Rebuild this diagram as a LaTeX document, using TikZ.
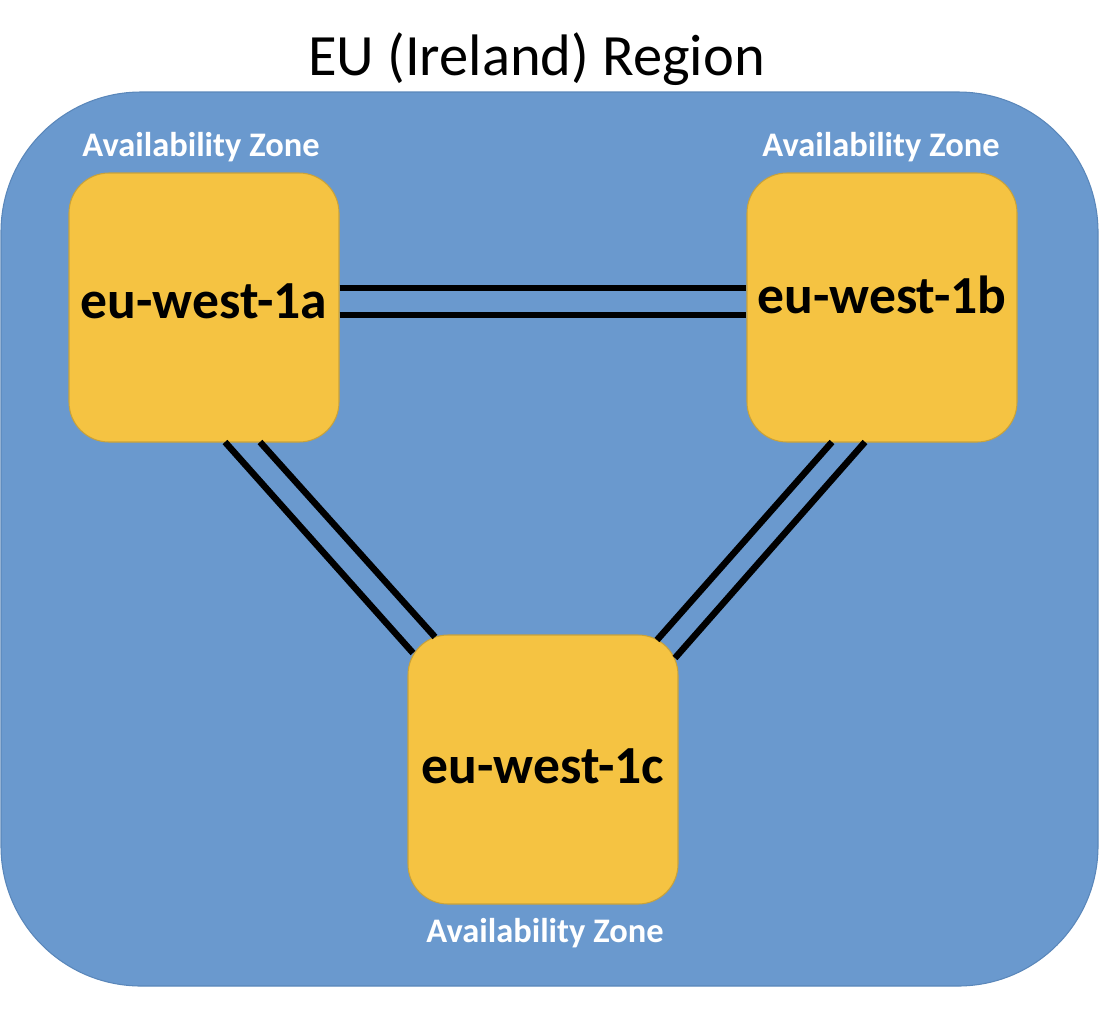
\documentclass[tikz,border=0pt]{standalone}
\usepackage{fontspec}
\setmainfont{Carlito}
\usetikzlibrary{positioning}
\definecolor{regionblue}{HTML}{6A99CE}
\definecolor{regionline}{HTML}{5A87BA}
\definecolor{zoneyellow}{HTML}{F5C342}
\definecolor{zoneline}{HTML}{C9A23A}

\begin{document}
\begin{tikzpicture}

        \tikzstyle{zonebox}=[draw=zoneline, fill=zoneyellow, line width=0.6pt, rounded corners=0.8cm,
                             minimum width=5.4cm, minimum height=5.38cm, inner sep=0pt,
                             font=\fontsize{30.5}{36}\selectfont\bfseries, text height=0.7cm]
        \tikzstyle{zonelbl}=[text=white, inner sep=0pt, anchor=base, font=\fontsize{19.6}{23}\selectfont\bfseries]
        \tikzstyle{link}=[draw=black, line width=0.13cm]

        \useasboundingbox (0,0) rectangle (22.28,-20.6);

        % region
        \draw [draw=regionline, fill=regionblue, line width=0.6pt, rounded corners=2.8cm] (0.02,-1.84) rectangle (21.96,-19.72);
        \node (title) [anchor=base, inner sep=0pt, font=\fontsize{33.3}{40}\selectfont] at (10.73,-1.5) {EU (Ireland) Region};

        % zones
        \node (a) [zonebox, text depth=0.28cm] at (4.08,-6.15) {eu-west-1a};
        \node (b) [zonebox, text depth=0.48cm] at (17.64,-6.15) {eu-west-1b};
        \node (c) [zonebox, text depth=0.16cm] at (10.86,-15.39) {eu-west-1c};

        \node (la) [zonelbl] at ([shift={(-0.06,0.32)}]a.north) {Availability Zone};
        \node (lb) [zonelbl] at ([shift={(-0.02,0.32)}]b.north) {Availability Zone};
        \node (lc) [zonelbl] at ([shift={(0.04,-0.76)}]c.south) {Availability Zone};

        % links
        \begin{scope}[link]
        \draw ([yshift=0.39cm]a.east) -- ([yshift=0.39cm]b.west); %
        \draw ([yshift=-0.15cm]a.east) -- ([yshift=-0.15cm]b.west); %
        \draw ([shift={(0.42,-2.69)}]a.center) -- ([shift={(-2.6,2.33)}]c.center); %
        \draw ([shift={(1.12,-2.69)}]a.center) -- ([shift={(-2.16,2.65)}]c.center); %
        \draw ([shift={(-1.0,-2.69)}]b.center) -- ([shift={(2.28,2.59)}]c.center); %
        \draw ([shift={(-0.34,-2.69)}]b.center) -- ([shift={(2.64,2.23)}]c.center); %
        \end{scope}

\end{tikzpicture}
\end{document}
